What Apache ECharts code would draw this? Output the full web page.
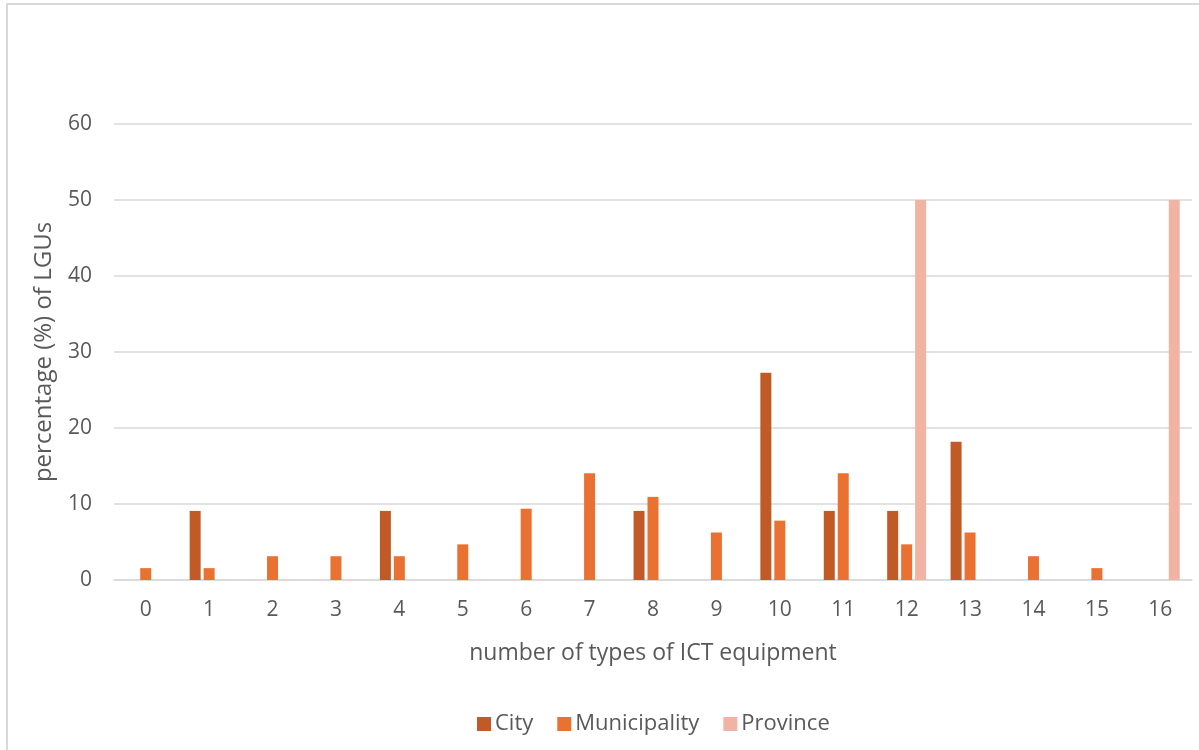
<!DOCTYPE html>
<html>
<head>
<meta charset="utf-8">
<script src="https://cdn.jsdelivr.net/npm/echarts@6/dist/echarts.min.js"></script>
<style>
  html, body { margin: 0; padding: 0; background: #fff; }
  #chart { width: 1199px; height: 750px; }
</style>
</head>
<body>
<div id="chart"></div>
<script>
const categories   = ["0","1","2","3","4","5","6","7","8","9","10","11","12","13","14","15","16"];
const city         = [0, 9.09, 0, 0, 9.09, 0, 0, 0, 9.09, 0, 27.27, 9.09, 9.09, 18.18, 0, 0, 0];
const municipality = [1.56, 1.56, 3.13, 3.13, 3.13, 4.69, 9.38, 14.06, 10.94, 6.25, 7.81, 14.06, 4.69, 6.25, 3.13, 1.56, 0];
const province     = [0, 0, 0, 0, 0, 0, 0, 0, 0, 0, 0, 0, 50, 0, 0, 0, 50];
const yTicks       = { min: 0, max: 60, interval: 10 };

const FONT = "'Open Sans', sans-serif";
const TXT  = "#595959";
const GRID = "#d9d9d9";

const chart = echarts.init(document.getElementById("chart"), null, { renderer: "canvas" });

const barStyle = color => ({ color, borderWidth: 0 });

chart.setOption({
  backgroundColor: "#fff",
  animation: false,
  textStyle: { fontFamily: FONT, color: TXT },
  graphic: [{
    type: "rect", silent: true,
    shape: { x: 7, y: 4, width: 1400, height: 1000 },
    style: { fill: "none", stroke: "#d9d9d9", lineWidth: 2 },
  }],
  grid: { left: 114, right: 7, top: 124, bottom: 170 },
  legend: {
    bottom: 10, left: 472,
    itemWidth: 14, itemHeight: 14, itemGap: 24,
    icon: "rect",
    textStyle: { fontFamily: FONT, fontSize: 22, color: TXT, padding: [0, 0, 0, -1] },
    data: ["City", "Municipality", "Province"],
  },
  xAxis: {
    type: "category", data: categories,
    name: "number of types of ICT equipment", nameLocation: "middle", nameGap: 62,
    nameTextStyle: { fontFamily: FONT, fontSize: 23, color: TXT },
    axisLine: { lineStyle: { color: GRID, width: 1.5 } },
    axisTick: { show: false },
    axisLabel: { fontFamily: FONT, fontSize: 21, color: TXT, margin: 20 },
  },
  yAxis: {
    type: "value", ...yTicks,
    name: "percentage (%) of LGUs", nameLocation: "middle", nameGap: 58,
    nameTextStyle: { fontFamily: FONT, fontSize: 24, color: TXT },
    axisLine: { show: false }, axisTick: { show: false },
    axisLabel: { fontFamily: FONT, fontSize: 21, color: TXT, margin: 22 },
    splitLine: { lineStyle: { color: GRID, width: 1.5 } },
  },
  series: [
    { name: "City",         type: "bar", data: city,         barWidth: 11, barGap: "27%", barCategoryGap: "38%", itemStyle: barStyle("#c05b28") },
    { name: "Municipality", type: "bar", data: municipality, barWidth: 11, itemStyle: barStyle("#e97132") },
    { name: "Province",     type: "bar", data: province,     barWidth: 11, itemStyle: barStyle("#f1b3a3") },
  ],
});
</script>
</body>
</html>
